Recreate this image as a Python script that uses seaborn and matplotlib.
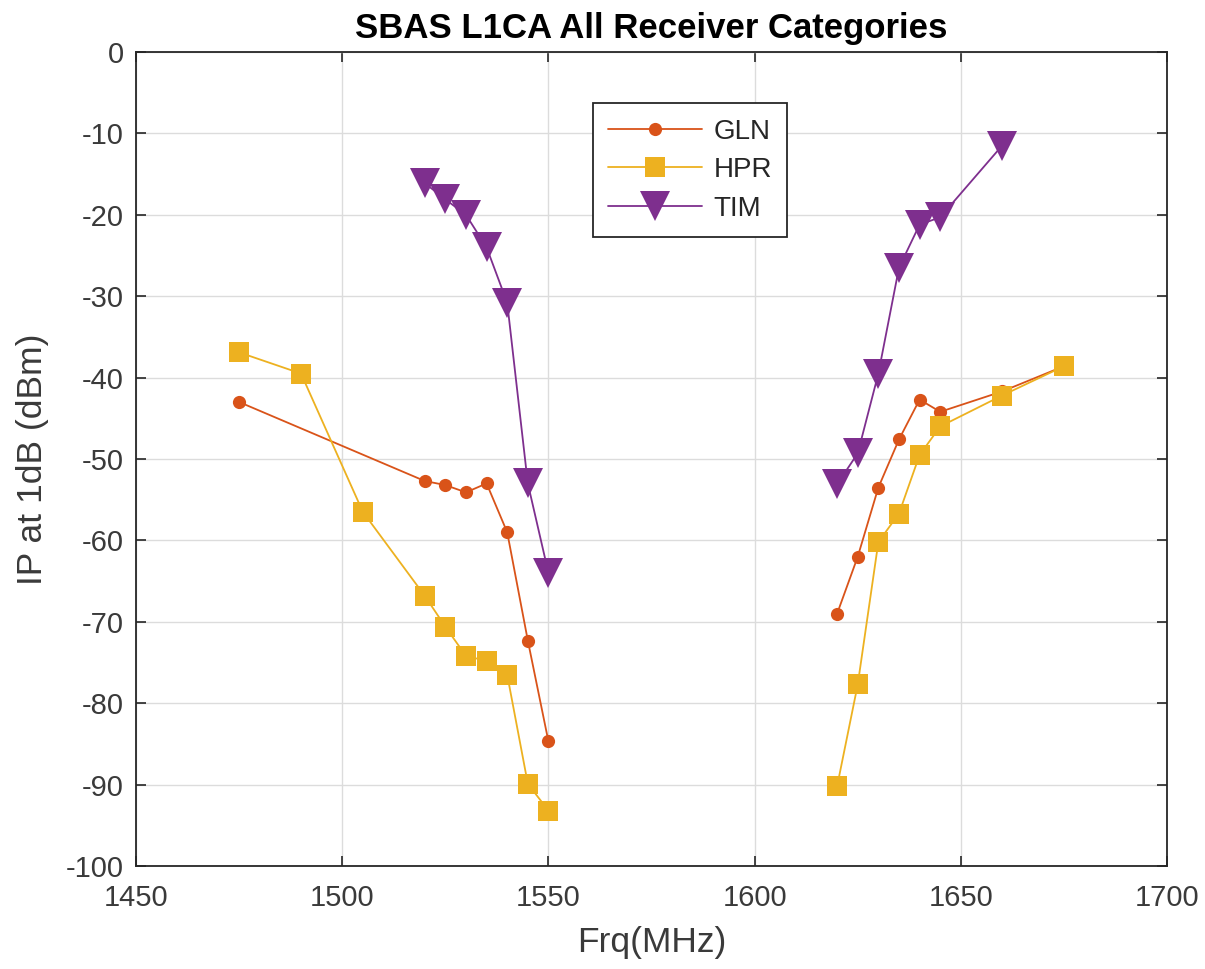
import numpy as np
import pandas as pd
import matplotlib
matplotlib.use("Agg")
import matplotlib.pyplot as plt
import seaborn as sns

# ---- data ----
gln_freq_low = [1475, 1520, 1525, 1530, 1535, 1540, 1545, 1550]
gln_ip_low = [-43.0, -52.7, -53.2, -54.1, -53.0, -59.0, -72.3, -84.7]
gln_freq_high = [1620, 1625, 1630, 1635, 1640, 1645, 1660, 1675]
gln_ip_high = [-69.0, -62.0, -53.5, -47.6, -42.7, -44.2, -41.7, -38.6]

hpr_freq_low = [1475, 1490, 1505, 1520, 1525, 1530, 1535, 1540, 1545, 1550]
hpr_ip_low = [-36.9, -39.5, -56.5, -66.8, -70.6, -74.2, -74.8, -76.5, -89.9, -93.2]
hpr_freq_high = [1620, 1625, 1630, 1635, 1640, 1645, 1660, 1675]
hpr_ip_high = [-90.2, -77.7, -60.2, -56.7, -49.5, -46.0, -42.2, -38.6]

tim_freq_low = [1520, 1525, 1530, 1535, 1540, 1545, 1550]
tim_ip_low = [-16.1, -18.1, -20.0, -24.0, -30.8, -53.0, -64.0]
tim_freq_high = [1620, 1625, 1630, 1635, 1640, 1645, 1660]
tim_ip_high = [-53.1, -49.3, -39.5, -26.5, -21.2, -20.3, -11.5]

series_names = ["GLN", "HPR", "TIM"]
x_ticks = [1450, 1500, 1550, 1600, 1650, 1700]
y_ticks = [-100, -90, -80, -70, -60, -50, -40, -30, -20, -10, 0]

# ---- style ----
sns.set_theme(style="white")
plt.rcParams['font.family'] = ['Liberation Sans', 'DejaVu Sans']
plt.rcParams['axes.unicode_minus'] = False

colors = {"GLN": "#D95319", "HPR": "#EDB120", "TIM": "#7E2F8E"}
markers = {"GLN": "o", "HPR": "s", "TIM": "v"}
msizes = {"GLN": 9.5, "HPR": 15, "TIM": 21}

segments = {
    "GLN": [(gln_freq_low, gln_ip_low), (gln_freq_high, gln_ip_high)],
    "HPR": [(hpr_freq_low, hpr_ip_low), (hpr_freq_high, hpr_ip_high)],
    "TIM": [(tim_freq_low, tim_ip_low), (tim_freq_high, tim_ip_high)],
}

fig = plt.figure(figsize=(12.05, 9.69), dpi=100)
ax = fig.add_axes([0.1129, 0.1063, 0.8556, 0.8400])

for name in series_names:
    for i, (fx, fy) in enumerate(segments[name]):
        df = pd.DataFrame({"Frq": fx, "IP": fy})
        sns.lineplot(data=df, x="Frq", y="IP", ax=ax, color=colors[name],
                     marker=markers[name], markersize=msizes[name],
                     markeredgewidth=0, linewidth=1.3, sort=False,
                     estimator=None, label=name if i == 0 else None,
                     legend=False)

ax.set_xlim(1450, 1700)
ax.set_ylim(-100, 0)
ax.set_xticks(x_ticks)
ax.set_yticks(y_ticks)
ax.grid(True, color="#dcdcdc", linewidth=1.0)
ax.set_axisbelow(True)
ax.tick_params(axis="both", which="both", direction="in", length=7, width=1.2,
               top=True, right=True, bottom=True, left=True,
               labelsize=21, labelcolor="#3a3a3a", color="#262626", pad=9)
ax.tick_params(axis="x", pad=13)
for sp in ax.spines.values():
    sp.set_color("#262626")
    sp.set_linewidth(1.3)

ax.set_xlabel("Frq(MHz)", fontsize=25.5, color="#3a3a3a", labelpad=10)
ax.set_ylabel("IP at 1dB (dBm)", fontsize=25.5, color="#3a3a3a", labelpad=12)
ax.set_title("SBAS L1CA All Receiver Categories", fontsize=25, fontweight="bold",
             color="black", pad=10)

handles, labels = ax.get_legend_handles_labels()
seen = {}
for h, l in zip(handles, labels):
    if l in series_names and l not in seen:
        seen[l] = h
leg = ax.legend([seen[n] for n in series_names], series_names,
                loc="upper left", bbox_to_anchor=(0.443, 0.937),
                fontsize=20, frameon=True, fancybox=False, framealpha=1,
                edgecolor="#262626", borderpad=0.55, handlelength=3.4,
                handletextpad=0.4, labelspacing=0.45, borderaxespad=0)
leg.get_frame().set_linewidth(1.3)
for t in leg.get_texts():
    t.set_color("#262626")

fig.savefig("out.png", dpi=100)
